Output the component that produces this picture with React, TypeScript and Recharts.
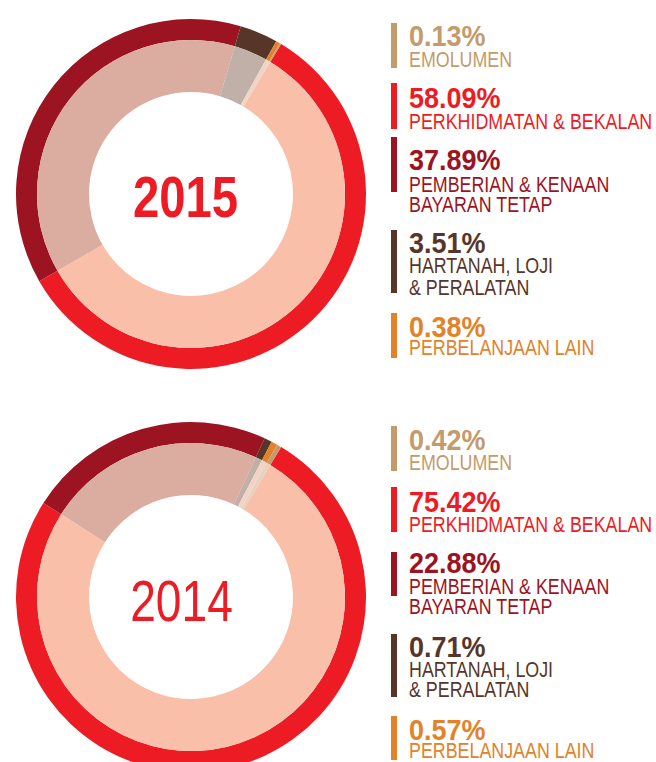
import React from "react";
import { PieChart, Pie, Cell } from "recharts";

const categories = [
  "PERKHIDMATAN & BEKALAN",
  "PEMBERIAN & KENAAN BAYARAN TETAP",
  "HARTANAH, LOJI & PERALATAN",
  "PERBELANJAAN LAIN",
  "EMOLUMEN",
];
const values2015 = [58.09, 37.89, 3.51, 0.38, 0.13];
const values2014 = [75.42, 22.88, 0.71, 0.57, 0.42];
const years = ["2015", "2014"];

const legendOrder = [4, 0, 1, 2, 3];
const legendLines: string[][] = [
  ["PERKHIDMATAN & BEKALAN"],
  ["PEMBERIAN & KENAAN", "BAYARAN TETAP"],
  ["HARTANAH, LOJI", "& PERALATAN"],
  ["PERBELANJAAN LAIN"],
  ["EMOLUMEN"],
];

const outerColors = ["#ED1C24", "#9C1422", "#573629", "#E2822A", "#C39B6C"];
const innerColors = ["#F9BFA8", "#DBACA0", "#C0B0A8", "#F2D4C4", "#E6D2BE"];

const FONT = '"Liberation Sans", Arial, sans-serif';

// layout for legend entries: [barTop, barBottom, pctBaseline, labelBaseline1, labelBaseline2?]
const legendLayout2015 = [
  [23, 68, 46, 67],
  [83, 129, 108, 129],
  [137, 192, 170, 192, 212],
  [230, 293, 253, 273, 295],
  [313, 358, 337, 355],
];
const legendLayout2014 = [
  [426, 471, 450, 470],
  [487, 532, 512, 532],
  [552, 596, 573, 594, 614],
  [634, 697, 657, 677, 697],
  [716, 760, 740, 758],
];

const makeData = (vals: number[]) => categories.map((c, i) => ({ name: c, value: vals[i] }));

function Legend({ vals, layout }: { vals: number[]; layout: number[][] }) {
  return (
    <>
      {legendOrder.map((idx, k) => {
        const L = layout[k];
        const lines = legendLines[idx];
        const col = outerColors[idx];
        return (
          <g key={idx}>
            <rect x={391} y={L[0]} width={6} height={L[1] - L[0]} fill={col} />
            <text
              transform={`translate(409 ${L[2]}) scale(0.9 1)`}
              fontFamily={FONT}
              fontWeight={700}
              fontSize={30}
              fill={col}
            >
              {vals[idx].toFixed(2)}%
            </text>
            {lines.map((ln, j) => (
              <text
                key={j}
                transform={`translate(409 ${L[3 + j]}) scale(0.838 1)`}
                fontFamily={FONT}
                fontSize={21.3}
                fill={col}
              >
                {ln}
              </text>
            ))}
          </g>
        );
      })}
    </>
  );
}

export default function App() {
  const d15 = makeData(values2015);
  const d14 = makeData(values2014);
  const charts = [
    { data: d15, cy: 189 },
    { data: d14, cy: 592 },
  ];
  return (
    <div style={{ position: "absolute", left: 0, top: 0, width: 656, height: 762, background: "#fff", overflow: "hidden" }}>
      <PieChart width={656} height={762}>
        {charts.map((c, ci) => (
          <Pie
            key={"o" + ci}
            data={c.data}
            dataKey="value"
            cx={186}
            cy={c.cy}
            innerRadius={154}
            outerRadius={175}
            startAngle={59}
            endAngle={-301}
            stroke="none"
            isAnimationActive={false}
          >
            {c.data.map((_, i) => (
              <Cell key={i} fill={outerColors[i]} />
            ))}
          </Pie>
        ))}
        {charts.map((c, ci) => (
          <Pie
            key={"i" + ci}
            data={c.data}
            dataKey="value"
            cx={186}
            cy={c.cy}
            innerRadius={102}
            outerRadius={154}
            startAngle={59}
            endAngle={-301}
            stroke="none"
            isAnimationActive={false}
          >
            {c.data.map((_, i) => (
              <Cell key={i} fill={innerColors[i]} />
            ))}
          </Pie>
        ))}
      </PieChart>
      <svg width={656} height={762} style={{ position: "absolute", left: 0, top: 0 }}>
        <text
          transform="translate(185.5 217) scale(0.83 1)"
          textAnchor="middle"
          fontFamily={FONT}
          fontWeight={700}
          fontSize={57}
          fill="#ED1C24"
        >
          {years[0]}
        </text>
        <text
          transform="translate(181.5 621) scale(0.81 1)"
          textAnchor="middle"
          fontFamily={FONT}
          fontWeight={400}
          fontSize={57}
          fill="#ED1C24"
        >
          {years[1]}
        </text>
        <Legend vals={values2015} layout={legendLayout2015} />
        <Legend vals={values2014} layout={legendLayout2014} />
      </svg>
    </div>
  );
}
